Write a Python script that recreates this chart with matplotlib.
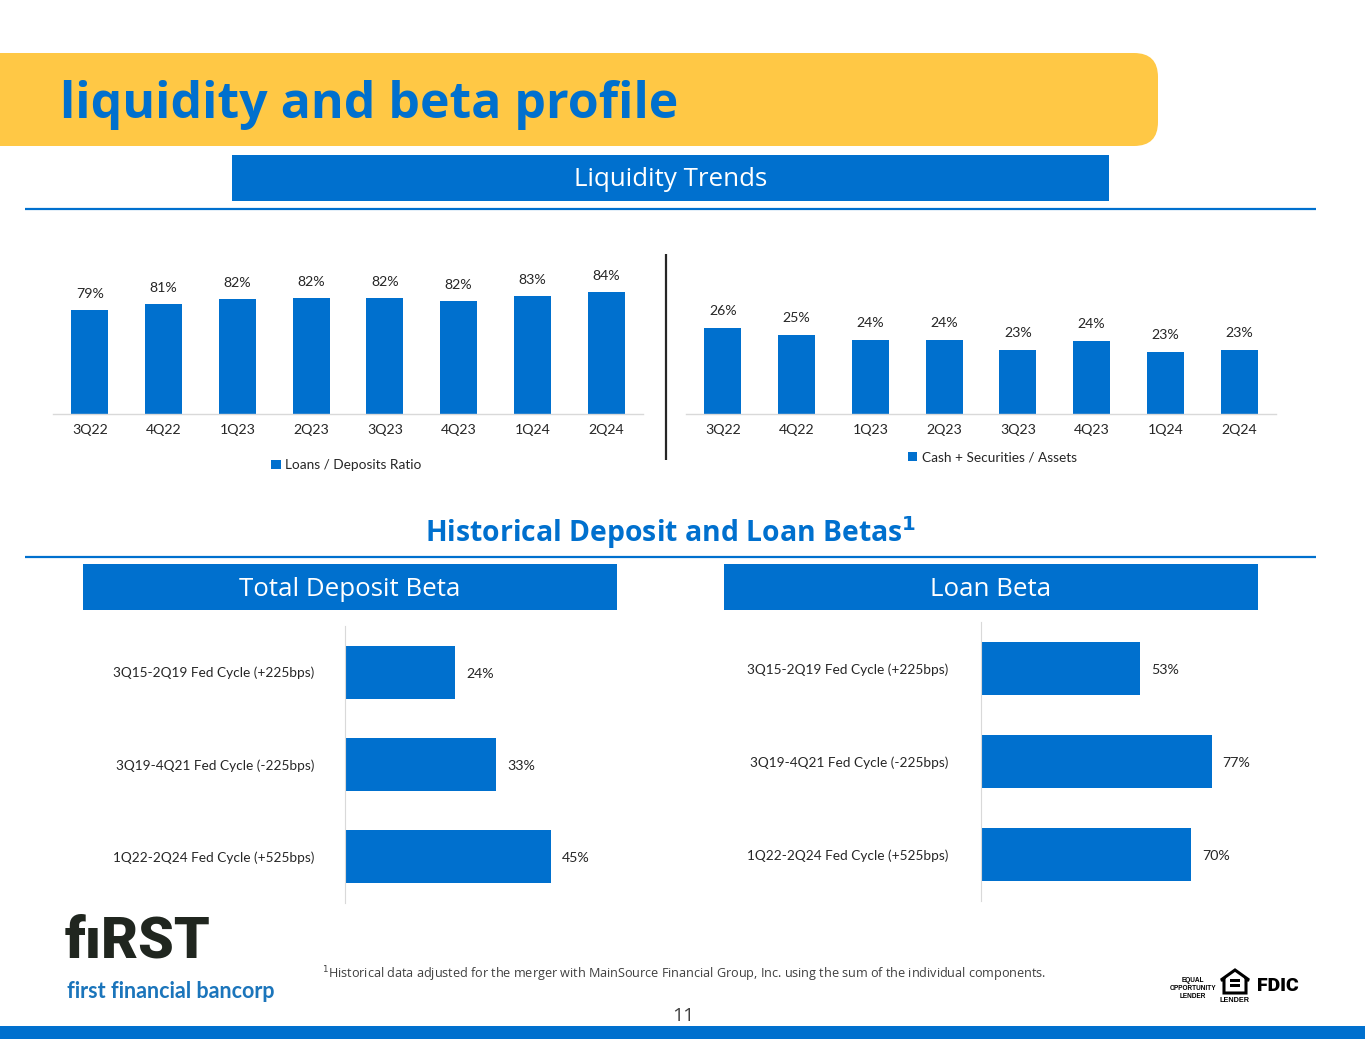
import matplotlib
matplotlib.use("Agg")
import matplotlib.pyplot as plt
from matplotlib.patches import FancyBboxPatch, Rectangle, Polygon

BLUE = "#0070CE"
YELLOW = "#FFC845"
GREY = "#D9D9D9"
TEXT = "#262626"

quarters = ["3Q22", "4Q22", "1Q23", "2Q23", "3Q23", "4Q23", "1Q24", "2Q24"]
loans_deposits = [79.0, 80.6, 82.0, 82.2, 82.2, 81.5, 82.8, 84.0]
cash_securities = [26.0, 25.1, 24.45, 24.49, 23.2, 24.4, 22.9, 23.2]
cycles = ["3Q15-2Q19 Fed Cycle (+225bps)", "3Q19-4Q21 Fed Cycle (-225bps)",
          "1Q22-2Q24 Fed Cycle (+525bps)"]
deposit_beta = [24, 33, 45]
loan_beta = [53, 77, 70]

W, H = 1365, 1055
fig = plt.figure(figsize=(W / 100, H / 100), dpi=100, facecolor="white")
plt.rcParams["font.family"] = ["Lato", "DejaVu Sans"]


def axes_px(x0, y0, x1, y1):
    """Add axes from pixel box, y measured from the top of the page."""
    return fig.add_axes([x0 / W, 1 - y1 / H, (x1 - x0) / W, (y1 - y0) / H])


# page furniture drawn in pixel coordinates
bg = fig.add_axes([0, 0, 1, 1])
bg.set_xlim(0, W)
bg.set_ylim(H, 0)
bg.axis("off")

bg.add_patch(FancyBboxPatch((-60, 53), 1218, 93, boxstyle="round,pad=0,rounding_size=24",
                            fc=YELLOW, ec="none"))
bg.text(60, 105, "liquidity and beta profile", fontsize=36, fontweight="bold", color=BLUE,
        family="Open Sans", va="center", ha="left")

for x0, x1, y0, y1, label in [(232, 1109, 155, 201, "Liquidity Trends"),
                              (83, 617, 564, 610, "Total Deposit Beta"),
                              (724, 1258, 564, 610, "Loan Beta")]:
    bg.add_patch(Rectangle((x0, y0), x1 - x0, y1 - y0, fc=BLUE, ec="none"))
    bg.text((x0 + x1) / 2, (y0 + y1) / 2 + 2, label, color="white", fontsize=18.6,
            family="Open Sans", ha="center", va="center")

bg.plot([25, 1316], [208.5, 208.5], color=BLUE, lw=1.6, solid_capstyle="butt")
bg.plot([25, 1316], [557, 557], color=BLUE, lw=1.6, solid_capstyle="butt")
bg.plot([665.5, 665.5], [254, 460], color="#262626", lw=1.6, solid_capstyle="butt")

bg.text(671, 533, r"Historical Deposit and Loan Betas$^{\mathbf{1}}$", color=BLUE, fontsize=20.4,
        fontweight="bold", family="Open Sans", ha="center", va="center",
        math_fontfamily="dejavusans")

# footer
bg.add_patch(Rectangle((0, 1026), W, 13, fc=BLUE, ec="none"))
bg.text(683, 1016, "11", fontsize=14, color="#404040", family="Open Sans", ha="center", va="center")
bg.text(322, 974, r"$^{1}$Historical data adjusted for the merger with MainSource Financial Group, Inc. "
        "using the sum of the individual components.", fontsize=9.05, color="#404040",
        family="Open Sans", ha="left", va="center")

# logo
bg.text(65, 942, "fıRST", fontsize=41, fontweight="black", color="#20261F", family="Roboto",
        ha="left", va="center")
bg.text(67, 991, "first financial bancorp", fontsize=15.5, color="#1B75BB", family="Lato",
        fontweight="bold", ha="left", va="center")

# lender marks
for y, word in [(980, "EQUAL"), (988, "OPPORTUNITY"), (996, "LENDER")]:
    bg.text(1193, y, word, fontsize=4.7, fontweight="bold", color="black", ha="center", va="center",
            family="Liberation Sans")
bg.add_patch(Polygon([(1221, 980), (1235, 970), (1249, 980), (1246, 980), (1246, 993), (1224, 993),
                      (1224, 980)], closed=True, fc="white", ec="black", lw=2.2))
bg.add_patch(Rectangle((1230, 979), 10, 2.5, fc="black", ec="none"))
bg.add_patch(Rectangle((1230, 984), 10, 2.5, fc="black", ec="none"))
bg.text(1235, 1000, "LENDER", fontsize=5.2, fontweight="bold", color="black", ha="center", va="center",
        family="Liberation Sans")
bg.text(1278, 986, "FDIC", fontsize=14, fontweight="black", color="black", ha="center", va="center",
        family="Roboto")


def column_chart(box, values, base, top, legend_label, legend_x, legend_y, label_pad):
    ax = axes_px(*box)
    ax.patch.set_alpha(0)
    bars = ax.bar(quarters, values, width=0.5, color=BLUE, label=legend_label)
    ax.set_xlim(-0.5, len(quarters) - 0.5)
    ax.set_ylim(base, top)
    for s in ["top", "left", "right"]:
        ax.spines[s].set_visible(False)
    ax.spines["bottom"].set_color(GREY)
    ax.spines["bottom"].set_linewidth(1)
    ax.set_yticks([])
    ax.tick_params(axis="x", length=0, pad=7, labelsize=10.2, labelcolor=TEXT)
    ax.bar_label(bars, fmt="%.0f%%", padding=label_pad, fontsize=10.2, color=TEXT)
    ax.legend(loc="center", bbox_to_anchor=(legend_x, legend_y), frameon=False, fontsize=9.8,
              labelcolor=TEXT, handlelength=0.7, handleheight=0.7, handletextpad=0.3)
    return ax


column_chart((53, 254, 643, 414), loans_deposits, 50, 50 + 160 / 3.6,
             "Loans / Deposits Ratio", 0.497, -0.32, 7)
column_chart((686, 254, 1276, 414), cash_securities, 15, 15 + 160 / 7.8,
             "Cash + Securities / Assets", 0.519, -0.27, 8)


def beta_chart(box, values, px_per_pct, label_pad):
    ax = axes_px(*box)
    ax.patch.set_alpha(0)
    bars = ax.barh(cycles, values, height=0.575, color=BLUE)
    ax.set_ylim(2.5, -0.5)
    ax.set_xlim(0, (box[2] - box[0]) / px_per_pct)
    for s in ["top", "bottom", "right"]:
        ax.spines[s].set_visible(False)
    ax.spines["left"].set_color(GREY)
    ax.set_xticks([])
    ax.tick_params(axis="y", length=0, pad=label_pad, labelsize=9.8, labelcolor=TEXT)
    labels = ax.bar_label(bars, fmt="%d%%", padding=8, fontsize=10.2, color=TEXT)
    for lab in labels:
        lab.xyann = (lab.xyann[0], lab.xyann[1] - 1)
    return ax


beta_chart((345, 626, 617, 903), deposit_beta, 4.58, 22)
beta_chart((981, 622, 1258, 901), loan_beta, 2.995, 23.5)

fig.savefig("out.png", dpi=100)
